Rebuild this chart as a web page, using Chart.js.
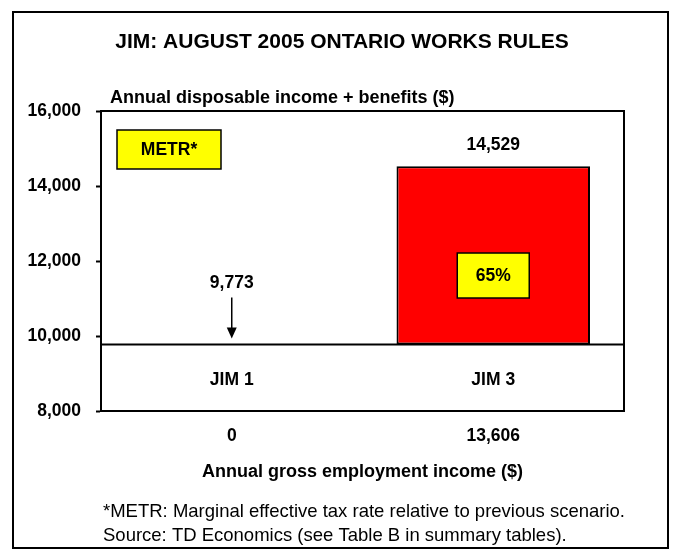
<!DOCTYPE html>
<html>
<head>
<meta charset="utf-8">
<script src="https://cdn.jsdelivr.net/npm/chart.js@4"></script>
<style>
  html, body { margin: 0; padding: 0; background: #fff; }
  canvas { display: block; }
</style>
</head>
<body>
<canvas id="c" width="681" height="556"></canvas>
<script>
// Scenario data
const scenarios = ['JIM 1', 'JIM 3'];
const grossIncome = ['0', '13,606'];
const disposableIncome = [9773, 14529];
const metrLabels = [null, '65%'];
const yTicks = [8000, 10000, 12000, 14000, 16000];

const FONT = '"Liberation Sans", Arial, Helvetica, sans-serif';
const fmt = v => v.toLocaleString('en-US');

// Each scenario after the first is a floating bar from the previous income level
const barData = disposableIncome.map((v, i) => i === 0 ? null : [disposableIncome[i - 1], v]);

const decorations = {
  id: 'decorations',
  beforeDraw(chart) {
    const ctx = chart.ctx;
    ctx.save();
    ctx.fillStyle = '#fff';
    ctx.fillRect(0, 0, chart.width, chart.height);
    ctx.restore();
  },
  beforeDatasetsDraw(chart) {
    const {ctx, chartArea: a, scales: {y}} = chart;
    // Baseline: first scenario income across the plot
    const yb = y.getPixelForValue(disposableIncome[0]);
    ctx.save();
    ctx.strokeStyle = '#000';
    ctx.lineWidth = 2;
    ctx.beginPath();
    ctx.moveTo(a.left, yb);
    ctx.lineTo(a.right, yb);
    ctx.stroke();
    ctx.restore();
  },
  afterDraw(chart) {
    const {ctx, chartArea: a, scales: {x, y}} = chart;
    ctx.save();
    // Outer frame
    ctx.strokeStyle = '#000';
    ctx.lineWidth = 2;
    ctx.strokeRect(13, 12, 655, 536);
    // Plot frame
    ctx.strokeRect(a.left, a.top, a.right - a.left, a.bottom - a.top);

    ctx.fillStyle = '#000';
    ctx.textBaseline = 'middle';
    // Title
    ctx.font = 'bold 21px ' + FONT;
    ctx.textAlign = 'center';
    ctx.fillText('JIM: AUGUST 2005 ONTARIO WORKS RULES', 342, 42);
    // Y axis title
    ctx.font = 'bold 18px ' + FONT;
    ctx.textAlign = 'left';
    ctx.fillText('Annual disposable income + benefits ($)', 110, 98);

    // Scenario names and value labels
    disposableIncome.forEach((v, i) => {
      const cx = x.getPixelForValue(i);
      const py = y.getPixelForValue(v);
      ctx.font = 'bold 17.5px ' + FONT;
      ctx.textAlign = 'center';
      ctx.fillStyle = '#000';
      ctx.fillText(scenarios[i], cx, a.bottom - 31);
      if (i === 0) {
        ctx.fillText(fmt(v), cx, py - 61);
        // Arrow pointing to the level
        ctx.lineWidth = 1.5;
        ctx.beginPath();
        ctx.moveTo(cx, py - 47);
        ctx.lineTo(cx, py - 12);
        ctx.stroke();
        ctx.beginPath();
        ctx.moveTo(cx - 5, py - 17);
        ctx.lineTo(cx + 5, py - 17);
        ctx.lineTo(cx, py - 6);
        ctx.closePath();
        ctx.fill();
      } else {
        ctx.fillText(fmt(v), cx, py - 21);
      }
      if (metrLabels[i]) {
        const base = y.getPixelForValue(disposableIncome[i - 1]);
        const bw = 72, bh = 45;
        const by = base - 69;
        ctx.fillStyle = '#FFFF00';
        ctx.fillRect(cx - bw / 2, by - bh / 2, bw, bh);
        ctx.lineWidth = 1.5;
        ctx.strokeRect(cx - bw / 2, by - bh / 2, bw, bh);
        ctx.fillStyle = '#000';
        ctx.font = 'bold 17.5px ' + FONT;
        ctx.fillText(metrLabels[i], cx, by + 1);
      }
    });

    // METR legend box
    const lx = a.left + 16, ly = a.top + 19, lw = 104, lh = 39;
    ctx.fillStyle = '#FFFF00';
    ctx.fillRect(lx, ly, lw, lh);
    ctx.lineWidth = 1.5;
    ctx.strokeRect(lx, ly, lw, lh);
    ctx.fillStyle = '#000';
    ctx.font = 'bold 17.5px ' + FONT;
    ctx.textAlign = 'center';
    ctx.fillText('METR*', lx + lw / 2, ly + lh / 2 + 1);

    // Footnotes
    ctx.font = '18.5px ' + FONT;
    ctx.textAlign = 'left';
    ctx.fillText('*METR: Marginal effective tax rate relative to previous scenario.', 103, 512);
    ctx.fillText('Source: TD Economics (see Table B in summary tables).', 103, 536);
    ctx.restore();
  }
};

new Chart(document.getElementById('c'), {
  type: 'bar',
  data: {
    labels: grossIncome,
    datasets: [{
      data: barData,
      backgroundColor: '#FF0000',
      borderColor: '#000',
      borderWidth: 2,
      borderSkipped: false,
      barPercentage: 0.74,
      categoryPercentage: 1.0
    }]
  },
  options: {
    responsive: false,
    animation: false,
    devicePixelRatio: 1,
    layout: { padding: { left: 0, top: 111, right: 57, bottom: 69 } },
    plugins: { legend: { display: false }, tooltip: { enabled: false }, title: { display: false } },
    scales: {
      x: {
        afterFit(s) { s.height = 76; },
        grid: { display: false, drawTicks: false },
        border: { display: false },
        ticks: { color: '#000', font: { family: FONT, size: 17.5, weight: 'bold' }, padding: 15 },
        title: {
          display: true,
          text: 'Annual gross employment income ($)',
          color: '#000',
          font: { family: FONT, size: 18, weight: 'bold' },
          padding: { top: 0, bottom: 4 }
        }
      },
      y: {
        min: 8000,
        max: 16000,
        afterFit(s) { s.width = 101; },
        afterBuildTicks(s) { s.ticks = yTicks.map(v => ({ value: v })); },
        grid: { drawOnChartArea: false, drawTicks: true, tickLength: 5, color: '#000', tickWidth: 2 },
        border: { display: true, color: '#000', width: 2 },
        ticks: {
          color: '#000',
          padding: 15,
          font: { family: FONT, size: 17.5, weight: 'bold' },
          callback: v => fmt(v)
        }
      }
    }
  },
  plugins: [decorations]
});
</script>
</body>
</html>
